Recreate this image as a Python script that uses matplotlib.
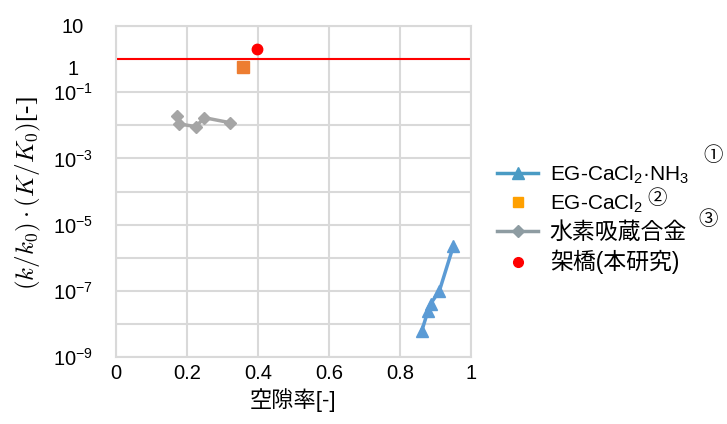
import matplotlib
matplotlib.use("Agg")
import matplotlib.pyplot as plt
import matplotlib.transforms as mtransforms
from matplotlib.lines import Line2D

plt.rcParams['font.family'] = ['Liberation Sans', 'Noto Sans CJK JP']
plt.rcParams['mathtext.fontset'] = 'custom'
plt.rcParams['mathtext.rm'] = 'Liberation Sans'
plt.rcParams['mathtext.it'] = 'Liberation Sans:italic'

# Series data: porosity (x) vs. (k/k0)*(K/K0) (y)
eg_nh3_x = [0.861, 0.879, 0.886, 0.911, 0.950]
eg_nh3_y = [6.0e-9, 2.5e-8, 4.0e-8, 1.0e-7, 2.2e-6]

eg_cacl2_x = [0.357]
eg_cacl2_y = [0.59]

alloy_x = [0.173, 0.178, 0.225, 0.249, 0.321]
alloy_y = [0.019, 0.011, 0.0091, 0.017, 0.012]

bridge_x = [0.396]
bridge_y = [2.0]

reference_level = 1.0

x_ticks = [0, 0.2, 0.4, 0.6, 0.8, 1.0]
x_tick_labels = ['0', '0.2', '0.4', '0.6', '0.8', '1']
y_ticks = [10, 1, 1e-1, 1e-3, 1e-5, 1e-7, 1e-9]
y_tick_labels = ['10', '1', r'$\mathregular{10^{-1}}$', r'$\mathregular{10^{-3}}$',
                 r'$\mathregular{10^{-5}}$', r'$\mathregular{10^{-7}}$',
                 r'$\mathregular{10^{-9}}$']

series_labels = [r'EG-CaCl$_2$·NH$_3$', r'EG-CaCl$_2$', '水素吸蔵合金', '架橋(本研究)']
circled = ['①', '②', '③']

fig = plt.figure(figsize=(7.27, 4.24), dpi=100)
ax = fig.add_axes([116 / 727, 1 - 357 / 424, 355 / 727, 331 / 424])

grid_c = '#d9d9d9'
ax.set_yscale('log')
ax.set_xlim(0, 1)
ax.set_ylim(1e-9, 10)

# Gridlines at every decade and every 0.2 in x
ax.set_yticks([10.0 ** e for e in range(-9, 2)], minor=True)
ax.yaxis.set_minor_formatter(matplotlib.ticker.NullFormatter())
ax.grid(True, which='both', axis='y', color=grid_c, lw=1.5)
ax.grid(True, which='major', axis='x', color=grid_c, lw=1.5)
ax.set_axisbelow(True)
for s in ax.spines.values():
    s.set_color(grid_c)
    s.set_linewidth(1.5)

ax.set_xticks(x_ticks)
ax.set_xticklabels(x_tick_labels, fontsize=14.5)
ax.set_yticks(y_ticks)
ax.set_yticklabels(y_tick_labels, fontsize=14.5)
ax.tick_params(which='both', length=0)
ax.tick_params(axis='x', pad=5)
ax.tick_params(axis='y', pad=31)
for lbl in ax.get_yticklabels():
    lbl.set_horizontalalignment('center')

# nudge the "1" label slightly downward
lbl_one = ax.get_yticklabels()[1]
lbl_one.set_transform(lbl_one.get_transform() +
                      mtransforms.ScaledTranslation(0, -8 / 100, fig.dpi_scale_trans))

ax.axhline(reference_level, color='#ff0000', lw=1.5, zorder=2)

ax.plot(eg_nh3_x, eg_nh3_y, color='#5b9bd5', lw=2.5, marker='^', ms=8, zorder=3)
ax.plot(eg_cacl2_x, eg_cacl2_y, ls='none', color='#ed7d31', marker='s', ms=9, zorder=3)
ax.plot(alloy_x, alloy_y, color='#a5a5a5', lw=2.5, marker='D', ms=6, zorder=3)
ax.plot(bridge_x, bridge_y, ls='none', color='#ff0000', marker='o', ms=7.5, zorder=4)

ax.set_xlabel('空隙率[-]', fontsize=16, labelpad=4)
fig.text(28 / 727, 1 - 193 / 424, r'$(k/k_0)\cdot(K/K_0)$[-]',
         rotation=90, ha='center', va='center', fontsize=18,
         family='Liberation Serif', math_fontfamily='cm')

handles = [
    Line2D([], [], color='#4a9bc4', lw=2.5, marker='^', ms=9),
    Line2D([], [], ls='none', color='#ffa000', marker='s', ms=7),
    Line2D([], [], color='#8e9ca2', lw=2.5, marker='D', ms=6),
    Line2D([], [], ls='none', color='#ff0000', marker='o', ms=7),
]
leg = fig.legend(handles, series_labels, loc='upper left',
                 bbox_to_anchor=(480 / 727, 1 - 147 / 424), frameon=False,
                 fontsize=15, handlelength=2.0, handletextpad=0.55,
                 labelspacing=0.3, borderpad=0.3)
for t in leg.get_texts()[2:]:
    t.set_fontsize(16.5)

fig.text(713 / 727, 1 - 156 / 424, circled[0], ha='center', va='center', fontsize=14)
fig.text(657 / 727, 1 - 199 / 424, circled[1], ha='center', va='center', fontsize=14)
fig.text(708 / 727, 1 - 220 / 424, circled[2], ha='center', va='center', fontsize=14)

fig.savefig('out.png', dpi=100)
